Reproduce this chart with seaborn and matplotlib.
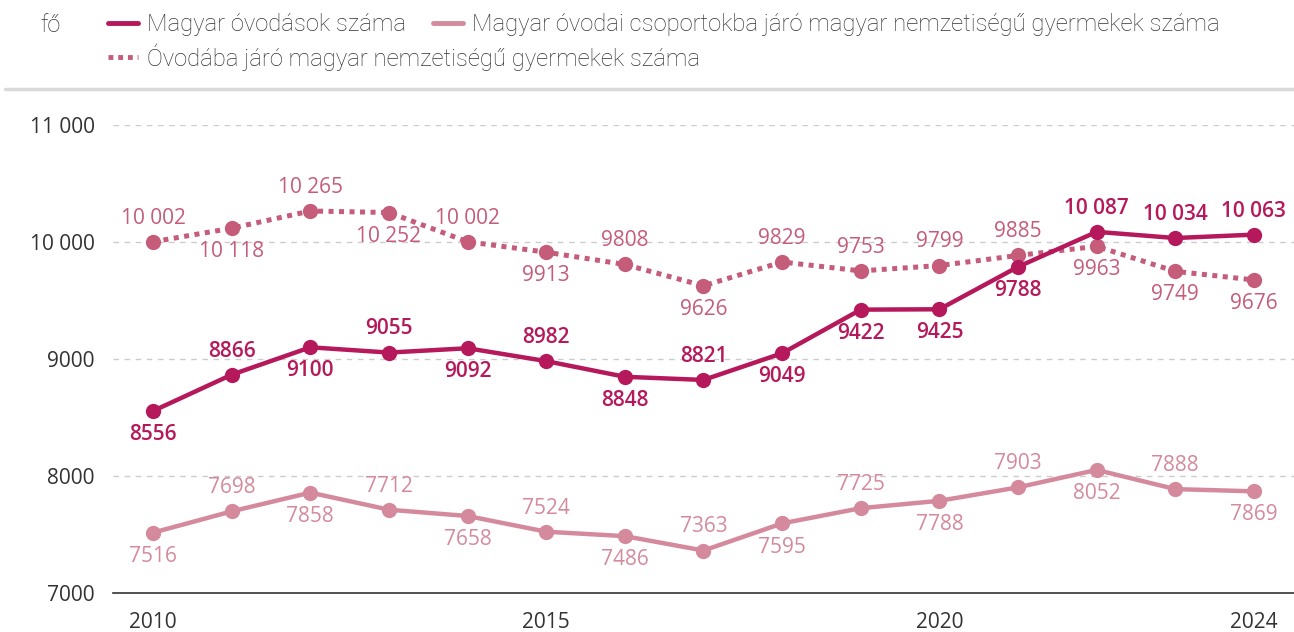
import pandas as pd
import matplotlib
matplotlib.use("Agg")
import matplotlib.pyplot as plt
import seaborn as sns
from matplotlib.lines import Line2D

# data
years = list(range(2010, 2025))
ovodasok = [8556, 8866, 9100, 9055, 9092, 8982, 8848, 8821, 9049, 9422, 9425, 9788, 10087, 10034, 10063]
csoport = [7516, 7698, 7858, 7712, 7658, 7524, 7486, 7363, 7595, 7725, 7788, 7903, 8052, 7888, 7869]
nemzetisegu = [10002, 10118, 10265, 10252, 10002, 9913, 9808, 9626, 9829, 9753, 9799, 9885, 9963, 9749, 9676]

# +1 = label above the point, -1 = below
pos_ovodasok = [-1, 1, -1, 1, -1, 1, -1, 1, -1, -1, -1, -1, 1, 1, 1]
pos_csoport = [-1, 1, -1, 1, -1, 1, -1, 1, -1, 1, -1, 1, -1, 1, -1]
pos_nemzet = [1, -1, 1, -1, 1, -1, 1, -1, 1, 1, 1, 1, -1, -1, -1]

names = ["Magyar óvodások száma",
         "Magyar óvodai csoportokba járó magyar nemzetiségű gyermekek száma",
         "Óvodába járó magyar nemzetiségű gyermekek száma"]
colors = ["#B5195B", "#D48A9C", "#C45C7A"]
ytick_vals = [7000, 8000, 9000, 10000, 11000]
xtick_vals = [2010, 2015, 2020, 2024]


def fmt(v):
    v = int(v)
    if v >= 10000:
        return f"{v:,}".replace(",", " ")
    return str(v)


sns.set_style("white")
plt.rcParams["font.family"] = ["Open Sans", "DejaVu Sans"]

fig = plt.figure(figsize=(12.94, 6.32), dpi=100)
ax = fig.add_axes([0.0873, 0.0617, 0.9127, 0.7405])

df = pd.DataFrame({"year": years, "a": ovodasok, "b": csoport, "c": nemzetisegu})

# draw order: light series first, dotted, then the dark one on top
sns.lineplot(data=df, x="year", y="b", ax=ax, color=colors[1], lw=3.2,
             marker="o", markersize=11, markeredgewidth=0, zorder=3)
sns.lineplot(data=df, x="year", y="c", ax=ax, color=colors[2], lw=3.6,
             linestyle=(0, (1, 1.1)), marker="o", markersize=11, markeredgewidth=0, zorder=4)
sns.lineplot(data=df, x="year", y="a", ax=ax, color=colors[0], lw=3.2,
             marker="o", markersize=11, markeredgewidth=0, zorder=5)

for col, pos, c, w in [("a", pos_ovodasok, colors[0], "semibold"),
                       ("b", pos_csoport, colors[1], "normal"),
                       ("c", pos_nemzet, colors[2], "normal")]:
    for x, y, p in zip(df["year"], df[col], pos):
        ax.annotate(fmt(y), (x, y), xytext=(0, 17 * p), textcoords="offset points",
                    ha="center", va="center", fontsize=15, color=c, clip_on=False,
                    fontweight=w, zorder=6)

ax.set_xlim(2009.49, 2024.51)
ax.set_ylim(7000, 11000)
ax.set_yticks(ytick_vals)
ax.set_yticklabels([fmt(v) for v in ytick_vals], fontsize=15, color="#333333")
ax.set_xticks(xtick_vals)
ax.set_xticklabels([str(v) for v in xtick_vals], fontsize=15, color="#333333")
ax.tick_params(axis="both", length=0)
ax.tick_params(axis="y", pad=13)
ax.tick_params(axis="x", pad=14)
ax.set_xlabel("")
ax.set_ylabel("")
for yv in ytick_vals[1:]:
    ax.axhline(yv, color="#cccccc", lw=1, ls=(0, (4, 4)), zorder=1)
for s in ["top", "right", "left"]:
    ax.spines[s].set_visible(False)
ax.spines["bottom"].set_color("#333333")
ax.spines["bottom"].set_linewidth(1.2)

# header: unit, legend, separator
fig.text(40 / 1294, 1 - 25 / 632, "fő", fontsize=17, color="#333333", va="center",
         family=["Roboto", "DejaVu Sans"], fontweight="light")
h1 = Line2D([], [], color=colors[0], lw=3.5)
h2 = Line2D([], [], color=colors[1], lw=3.5)
h3 = Line2D([], [], color=colors[2], lw=3.5, ls=(0, (1, 1)))
leg_font = {"family": ["Roboto", "DejaVu Sans"], "size": 17.2, "weight": "light"}
leg1 = fig.legend([h1, h2], names[:2], loc="center left", bbox_to_anchor=(108 / 1294, 1 - 25 / 632),
                  ncol=2, frameon=False, prop=leg_font, handlelength=1.25, handletextpad=0.4,
                  columnspacing=1.1, borderaxespad=0, borderpad=0)
leg2 = fig.legend([h3], names[2:], loc="center left", bbox_to_anchor=(108 / 1294, 1 - 57 / 632),
                  frameon=False, prop=leg_font, handlelength=1.25, handletextpad=0.4,
                  borderaxespad=0, borderpad=0)
for leg in (leg1, leg2):
    for t in leg.get_texts():
        t.set_color("#333333")
fig.add_artist(Line2D([5 / 1294, 1], [1 - 89 / 632, 1 - 89 / 632], color="#d9d9d9", lw=2.5,
                      transform=fig.transFigure))

fig.savefig("out.png", dpi=100)
